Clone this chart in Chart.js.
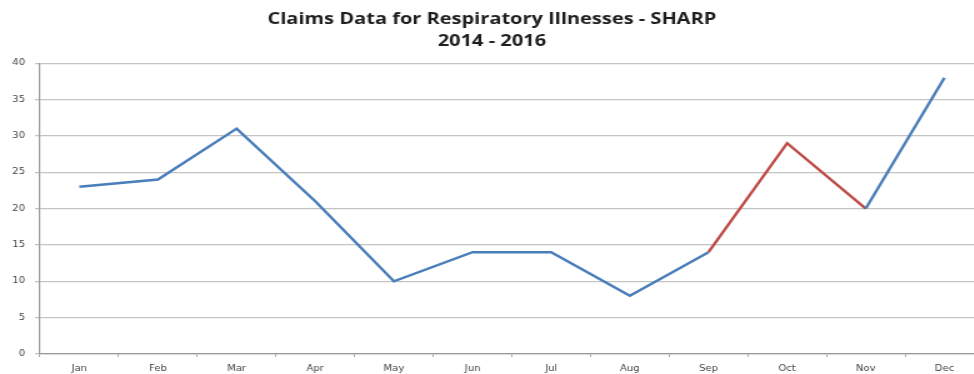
<!DOCTYPE html>
<html>
<head>
<meta charset="utf-8">
<script src="https://cdn.jsdelivr.net/npm/chart.js@4"></script>
<style>
  html, body { margin: 0; padding: 0; background: #fff; overflow: hidden; }
  /* the reference image is stretched sideways, so the whole chart is drawn narrow and widened */
  #wrap { width: 787px; height: 374px; transform: scaleX(1.25); transform-origin: 0 0; }
</style>
</head>
<body>
<div id="wrap"><canvas id="claimsChart" width="787" height="374"></canvas></div>
<script>
// Chart data
const months = ['Jan', 'Feb', 'Mar', 'Apr', 'May', 'Jun', 'Jul', 'Aug', 'Sep', 'Oct', 'Nov', 'Dec'];
const claims = [23, 24, 31, 21, 10, 14, 14, 8, 14, 29, 20, 38];
const redSegments = [8, 9]; // segments starting at Sep and Oct are drawn red
const yTicks = [0, 5, 10, 15, 20, 25, 30, 35, 40];

const blue = '#4a7ebb';
const red = '#be4b48';

const ctx = document.getElementById('claimsChart').getContext('2d');
const claimsChart = new Chart(ctx, {
    type: 'line',
    data: {
        labels: months,
        datasets: [{
            label: 'Claims',
            data: claims,
            borderColor: blue,
            borderWidth: 2.4,
            pointRadius: 0,
            tension: 0,
            segment: {
                borderColor: c => redSegments.includes(c.p0DataIndex) ? red : blue
            }
        }]
    },
    options: {
        responsive: false,
        animation: false,
        layout: { padding: 0 },
        plugins: {
            legend: { display: false },
            tooltip: { enabled: false },
            title: {
                display: true,
                text: ['Claims Data for Respiratory Illnesses - SHARP', '2014 - 2016'],
                color: '#1e1e1e',
                font: { family: 'Open Sans', size: 16, weight: 'bold', lineHeight: 1.35 },
                padding: { top: 9, bottom: 11 }
            }
        },
        scales: {
            y: {
                min: 0,
                max: 40,
                afterBuildTicks: axis => { axis.ticks = yTicks.map(v => ({ value: v })); },
                afterFit: axis => { axis.width = 32; },
                ticks: {
                    color: '#444',
                    font: { family: 'DejaVu Sans', size: 8 },
                    padding: 8
                },
                grid: { color: '#c4c4c4', lineWidth: 1.3, tickLength: 4 },
                border: { color: '#9a9a9a', width: 1.2 }
            },
            x: {
                offset: true,
                afterFit: axis => { axis.height = 20; },
                ticks: {
                    color: '#444',
                    font: { family: 'DejaVu Sans', size: 8 },
                    padding: 7
                },
                grid: { display: true, offset: true, drawOnChartArea: false, tickLength: 3, color: '#a8a8a8' },
                border: { color: '#9a9a9a', width: 1.3 }
            }
        }
    }
});
</script>
</body>
</html>
